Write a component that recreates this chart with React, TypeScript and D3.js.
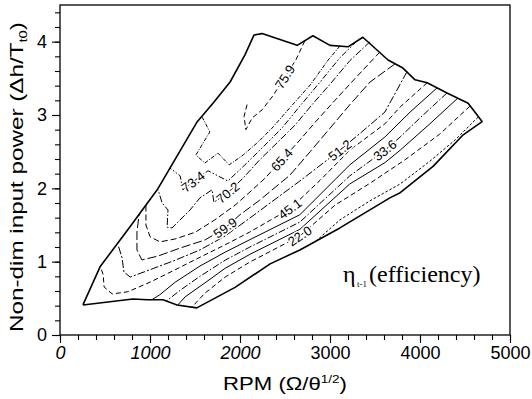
import { useEffect, useRef } from 'react';
import * as d3 from 'd3';

type Pt = [number, number]; // [rpm, non-dim power]

// outer edge of the mapped region
const boundary: Pt[] = [
  [255, 0.41], [810, 0.49], [970, 0.48], [1145, 0.48], [1300, 0.41], [1520, 0.37],
  [1945, 0.65], [2335, 0.97], [2665, 1.16], [3110, 1.46], [3665, 1.87], [3780, 1.94],
  [4145, 2.3], [4480, 2.73], [4690, 2.91], [4535, 3.16], [4300, 3.3], [4080, 3.44],
  [3945, 3.48], [3810, 3.64], [3645, 3.75], [3365, 4.06], [3200, 3.93], [3000, 3.95],
  [2810, 4.08], [2635, 3.95], [2245, 4.11], [2155, 4.09], [2055, 3.82], [1890, 3.45],
  [1700, 3.16], [1520, 2.9], [1080, 1.98], [780, 1.48], [445, 0.93], [255, 0.41],
];

// efficiency contours (lower-right to upper-left)
const edgeLow: Pt[] = [[4645, 2.97], [4390, 2.66], [4110, 2.37], [3780, 2.06], [3445, 1.83], [3110, 1.57], [2835, 1.27]];
const eta220: Pt[] = [[4555, 3.12], [4220, 2.74], [3835, 2.39], [3445, 2.07], [3055, 1.77], [2665, 1.35], [2110, 0.995], [1835, 0.79], [1610, 0.57], [1465, 0.38]];
const mid280: Pt[] = [[4420, 3.23], [4110, 2.88], [3780, 2.52], [3610, 2.35], [3220, 2.06], [2665, 1.44], [2110, 1.1], [1835, 0.91], [1610, 0.71], [1390, 0.52], [1310, 0.41]];
const eta336: Pt[] = [[4300, 3.3], [4000, 2.96], [3780, 2.7], [3610, 2.52], [3220, 2.17], [2665, 1.54], [2110, 1.2], [1835, 1.02], [1555, 0.8], [1335, 0.61], [1180, 0.46]];
const mid395: Pt[] = [[4190, 3.37], [3890, 3.04], [3610, 2.7], [3220, 2.32], [2665, 1.64], [2110, 1.3], [1835, 1.13], [1555, 0.94], [1280, 0.72], [1110, 0.55], [1020, 0.48]];
const eta451: Pt[] = [[4080, 3.44], [3780, 3.11], [3610, 2.88], [3220, 2.52], [2890, 2.11], [2555, 1.72], [2110, 1.405], [1835, 1.23], [1555, 1.06], [1280, 0.89], [1000, 0.72], [755, 0.59], [580, 0.56], [490, 0.655], [480, 0.82], [455, 0.91]];
const eta512: Pt[] = [[3855, 3.59], [3610, 3.04], [3335, 2.75], [3110, 2.52], [2665, 2.1], [2335, 1.8], [2110, 1.595], [1835, 1.35], [1555, 1.16], [1280, 1.02], [1000, 0.89], [780, 0.79], [710, 0.86], [690, 1.05], [645, 1.23]];
const eta599: Pt[] = [[3720, 3.695], [3445, 3.45], [3220, 3.14], [3000, 2.82], [2780, 2.5], [2555, 2.18], [2220, 1.84], [2000, 1.64], [1835, 1.46], [1610, 1.295], [1335, 1.186], [1090, 1.077], [910, 1.023], [855, 1.16], [855, 1.405], [880, 1.65]];
const eta654: Pt[] = [[3555, 3.86], [3280, 3.5], [3055, 3.2], [2835, 2.9], [2645, 2.63], [2465, 2.39], [2280, 2.14], [2110, 1.95], [1945, 1.77], [1720, 1.57], [1500, 1.4], [1280, 1.31], [1110, 1.27], [1000, 1.34], [955, 1.5], [955, 1.77]];
const eta702: Pt[] = [[3445, 4.0], [3220, 3.74], [3000, 3.42], [2800, 3.14], [2610, 2.86], [2420, 2.63], [2220, 2.39], [2035, 2.14], [1865, 1.94], [1710, 1.81], [1690, 1.98], [1555, 1.87], [1445, 1.705], [1335, 1.57], [1245, 1.46], [1190, 1.47], [1200, 1.705], [1135, 1.8], [1090, 1.98]];
const eta734: Pt[] = [[3300, 4.01], [3110, 3.78], [2890, 3.45], [2665, 3.12], [2465, 2.82], [2245, 2.55], [2055, 2.32], [1865, 2.1], [1645, 2.24], [1480, 2.09], [1365, 1.98], [1335, 2.17], [1220, 2.28]];
const mid748: Pt[] = [[3110, 3.94], [2980, 3.75], [2780, 3.41], [2555, 3.1], [2355, 2.82], [2200, 2.63], [2035, 2.455], [1880, 2.32], [1755, 2.48], [1610, 2.345], [1510, 2.455], [1665, 2.77], [1580, 2.97]];
const eta759: Pt[] = [[2720, 4.01], [2620, 3.75], [2500, 3.52], [2365, 3.26], [2245, 3.07], [2135, 2.96], [2065, 2.8], [2045, 2.98], [2080, 3.15]];

const contours = [edgeLow, eta220, mid280, eta336, mid395, eta451, eta512, eta599, eta654, eta702, eta734, mid748, eta759];
const contourLabels = ['', '22.0', '', '33.6', '', '45.1', '51.2', '59.9', '65.4', '70.2', '73.4', '', '75.9'];
const labelSpots: (Pt | null)[] = [
  null, [2665, 1.35], null, [3610, 2.52], null, [2555, 1.72], [3110, 2.52],
  [1835, 1.46], [2465, 2.39], [1865, 1.94], [1480, 2.09], null, [2500, 3.52],
];

const xTicks = [0, 1000, 2000, 3000, 4000, 5000];
const yTicks = [0, 1, 2, 3, 4];

export default function App() {
  const svgRef = useRef<SVGSVGElement>(null);

  useEffect(() => {
    if (!svgRef.current) return;
    const svg = d3.select(svgRef.current);
    svg.selectAll('*').remove();

    const width = 532, height = 399;
    const margin = { top: 5, right: 22, bottom: 64, left: 60 };
    const innerWidth = width - margin.left - margin.right;
    const innerHeight = height - margin.top - margin.bottom;
    const sans = '"Liberation Sans", Arial, sans-serif';
    const serif = '"Liberation Serif", "Times New Roman", serif';

    const x = d3.scaleLinear().domain([0, 5000]).range([0, innerWidth]);
    const y = d3.scaleLinear().domain([0, 4.5]).range([innerHeight, 0]);

    svg.append('rect').attr('width', width).attr('height', height).attr('fill', '#fff');
    const g = svg.append('g').attr('transform', `translate(${margin.left},${margin.top})`);

    // minor ticks
    g.append('g')
      .attr('transform', `translate(0,${innerHeight})`)
      .call(d3.axisBottom(x).tickValues(d3.range(0, 5001, 200)).tickSize(5).tickSizeOuter(0).tickFormat(() => ''))
      .call(a => a.select('.domain').remove());
    g.append('g')
      .call(d3.axisLeft(y).tickValues(d3.range(0, 23).map(i => i * 0.2)).tickSize(5).tickSizeOuter(0).tickFormat(() => ''))
      .call(a => a.select('.domain').remove());

    // major ticks + labels
    const xAxis = g.append('g')
      .attr('transform', `translate(0,${innerHeight})`)
      .call(d3.axisBottom(x).tickValues(xTicks).tickSize(8).tickPadding(3).tickSizeOuter(0).tickFormat(d => `${d}`));
    xAxis.select('.domain').remove();
    xAxis.selectAll('text')
      .attr('font-family', sans).attr('font-size', 18).attr('fill', '#000')
      .attr('font-style', (d: any) => (d <= 2000 ? 'italic' : 'normal'));

    const yAxis = g.append('g')
      .call(d3.axisLeft(y).tickValues(yTicks).tickSize(8).tickPadding(5).tickSizeOuter(0).tickFormat(d => `${d}`));
    yAxis.select('.domain').remove();
    yAxis.selectAll('text').attr('font-family', sans).attr('font-size', 18).attr('fill', '#000');
    svg.selectAll('.tick line').attr('stroke', '#000').attr('stroke-width', 1.1);

    g.append('rect')
      .attr('width', innerWidth).attr('height', innerHeight)
      .attr('fill', 'none').attr('stroke', '#000').attr('stroke-width', 1.3);

    const line = d3.line<Pt>().x(d => x(d[0])).y(d => y(d[1]));

    const dashes = [
      '2.5,2', '5,3', null, '7,2,1.5,2', null, '5,3', '8,2,2,2',
      '9,3', '6,3', '7,2,1.5,2', '6,2,1.5,2,1.5,2', '4,1.5,1,1.5', '5,3',
    ];

    g.selectAll('.contour')
      .data(contours)
      .enter()
      .append('path')
      .attr('class', 'contour')
      .attr('d', d => line(d))
      .attr('fill', 'none')
      .attr('stroke', '#000')
      .attr('stroke-width', 1)
      .attr('stroke-linejoin', 'round')
      .attr('stroke-dasharray', (_d, i) => dashes[i]);

    g.append('path')
      .attr('d', line(boundary))
      .attr('fill', 'none')
      .attr('stroke', '#000')
      .attr('stroke-width', 1.6)
      .attr('stroke-linejoin', 'round');

    // contour labels, turned along the local direction of their line
    contours.forEach((pts, i) => {
      const spot = labelSpots[i];
      if (!spot) return;
      const px = pts.map(p => [x(p[0]), y(p[1])]);
      const sx = x(spot[0]), sy = y(spot[1]);
      let k = 0;
      px.forEach((p, j) => {
        if (Math.hypot(p[0] - sx, p[1] - sy) < Math.hypot(px[k][0] - sx, px[k][1] - sy)) k = j;
      });
      const a = px[Math.max(0, k - 1)], b = px[Math.min(px.length - 1, k + 1)];
      let ang = (Math.atan2(b[1] - a[1], b[0] - a[0]) * 180) / Math.PI;
      if (ang > 90) ang -= 180;
      if (ang < -90) ang += 180;
      g.append('text')
        .attr('transform', `translate(${sx},${sy}) rotate(${ang})`)
        .attr('text-anchor', 'middle')
        .attr('dy', '0.35em')
        .attr('font-family', sans)
        .attr('font-size', 13)
        .attr('fill', '#000')
        .attr('stroke', '#fff')
        .attr('stroke-width', 3)
        .attr('paint-order', 'stroke')
        .text(contourLabels[i]);
    });

    // legend-like note
    const note = svg.append('text').attr('font-family', serif).attr('fill', '#000');
    note.append('tspan').attr('x', 343).attr('y', 282).attr('font-size', 24).text('η');
    note.append('tspan').attr('x', 357).attr('y', 287).attr('font-size', 9).text('t-1');
    note.append('tspan').attr('x', 369).attr('y', 282).attr('font-size', 24).text('(efficiency)');

    // axis titles, stretched to the width seen in the figure
    const xTitle = svg.append('text')
      .attr('text-anchor', 'middle')
      .attr('font-family', sans).attr('font-size', 18).attr('fill', '#000');
    xTitle.append('tspan').text('RPM (Ω/θ');
    xTitle.append('tspan').attr('font-size', 11).attr('dy', -7).text('1/2');
    xTitle.append('tspan').attr('dy', 7).text(')');
    const xLen = (xTitle.node() as SVGTextElement).getComputedTextLength() || 124;
    xTitle.attr('transform', `translate(285,390) scale(${124 / xLen},1)`);

    const yTitle = svg.append('text')
      .attr('text-anchor', 'middle')
      .attr('font-family', sans).attr('font-size', 18).attr('fill', '#000');
    yTitle.append('tspan').text('Non-dim input power (Δh/T');
    yTitle.append('tspan').attr('font-size', 11).attr('dy', 4).text('t0');
    yTitle.append('tspan').attr('dy', -4).text(')');
    const yLen = (yTitle.node() as SVGTextElement).getComputedTextLength() || 310;
    yTitle.attr('transform', `translate(23,177) rotate(-90) scale(${310 / yLen},1)`);
  }, []);

  return (
    <svg
      ref={svgRef}
      width={532}
      height={399}
      style={{ position: 'absolute', left: 0, top: 0, background: '#fff' }}
    />
  );
}
